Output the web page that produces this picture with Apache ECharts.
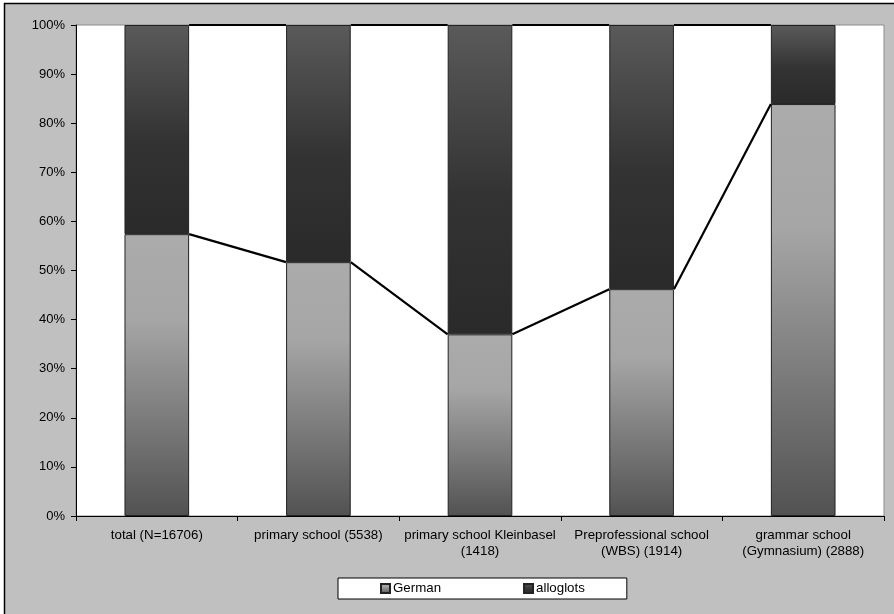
<!DOCTYPE html>
<html>
<head>
<meta charset="utf-8">
<script src="https://cdn.jsdelivr.net/npm/echarts@6/dist/echarts.min.js"></script>
<style>
  html, body { margin: 0; padding: 0; background: #ffffff; }
  #chart { width: 894px; height: 614px; }
</style>
</head>
<body>
<div id="chart"></div>
<script>
// School types with pupil counts
const categories = [
  'total (N=16706)',
  'primary school (5538)',
  'primary school Kleinbasel\n(1418)',
  'Preprofessional school\n(WBS) (1914)',
  'grammar school\n(Gymnasium) (2888)'
];
// Share of pupils by first language, in percent
const german = [57.4, 51.7, 37.0, 46.2, 83.9];
const alloglots = [42.6, 48.3, 63.0, 53.8, 16.1];
const yTicks = [0, 10, 20, 30, 40, 50, 60, 70, 80, 90, 100];

const FONT = 'Liberation Sans, Arial, sans-serif';
const BAR_RATIO = 0.4;

const germanFill = new echarts.graphic.LinearGradient(0, 0, 0, 1, [
  { offset: 0, color: '#ababab' },
  { offset: 0.3, color: '#a6a6a6' },
  { offset: 0.65, color: '#7c7c7c' },
  { offset: 1, color: '#525252' }
]);
const alloglotsFill = new echarts.graphic.LinearGradient(0, 0, 0, 1, [
  { offset: 0, color: '#5a5a5a' },
  { offset: 0.55, color: '#333333' },
  { offset: 1, color: '#2a2a2a' }
]);

// Connectors joining the tops of neighbouring stacked segments
function seriesLinePairs(tops) {
  const out = [];
  for (let i = 0; i < tops.length - 1; i++) out.push([i, tops[i], tops[i + 1]]);
  return out;
}
const germanTops = german.slice();
const stackTops = german.map((v, i) => v + alloglots[i]);

function renderConnector(params, api) {
  const i = api.value(0);
  const a = api.coord([i, api.value(1)]);
  const b = api.coord([i + 1, api.value(2)]);
  const half = api.size([1, 0])[0] * BAR_RATIO / 2;
  return {
    type: 'line',
    shape: { x1: a[0] + half, y1: a[1], x2: b[0] - half, y2: b[1] },
    style: { stroke: '#000000', lineWidth: 2.2 }
  };
}

const chart = echarts.init(document.getElementById('chart'), null, { renderer: 'canvas' });
chart.setOption({
  backgroundColor: '#ffffff',
  animation: false,
  graphic: [{
    type: 'rect',
    z: -10,
    silent: true,
    shape: { x: 4.5, y: 3.5, width: 900, height: 620 },
    style: { fill: '#c0c0c0', stroke: '#000000', lineWidth: 1.5 }
  }],
  grid: {
    left: 76, right: 10, top: 25, bottom: 98,
    show: true,
    backgroundColor: '#ffffff',
    borderColor: '#8c8c8c',
    borderWidth: 1
  },
  legend: {
    data: ['German', 'alloglots'],
    left: 338,
    top: 578,
    padding: [4, 42, 4, 42],
    itemGap: 82,
    itemWidth: 9,
    itemHeight: 9,
    icon: 'rect',
    backgroundColor: '#ffffff',
    borderColor: '#000000',
    borderWidth: 1,
    borderRadius: 0,
    textStyle: { fontFamily: FONT, fontSize: 13.3, color: '#000000', padding: [0, 0, 0, -2] }
  },
  xAxis: {
    type: 'category',
    data: categories,
    boundaryGap: true,
    axisLine: { lineStyle: { color: '#000000', width: 1 } },
    axisTick: { show: true, length: 5, interval: 0, lineStyle: { color: '#000000' } },
    axisLabel: {
      interval: 0,
      margin: 11,
      fontFamily: FONT,
      fontSize: 13.3,
      lineHeight: 16.5,
      color: '#000000',
      align: 'center'
    },
    splitLine: { show: false }
  },
  yAxis: {
    type: 'value',
    min: yTicks[0],
    max: yTicks[yTicks.length - 1],
    interval: yTicks[1] - yTicks[0],
    axisLine: { show: true, lineStyle: { color: '#000000', width: 1 } },
    axisTick: { show: true, length: 5, lineStyle: { color: '#000000' } },
    axisLabel: {
      formatter: '{value}%',
      margin: 11,
      fontFamily: FONT,
      fontSize: 13,
      color: '#000000'
    },
    splitLine: { show: false }
  },
  series: [
    {
      name: 'German',
      type: 'bar',
      stack: 'share',
      barWidth: (BAR_RATIO * 100) + '%',
      data: german,
      itemStyle: { color: germanFill, borderColor: '#222222', borderWidth: 1 }
    },
    {
      name: 'alloglots',
      type: 'bar',
      stack: 'share',
      barWidth: (BAR_RATIO * 100) + '%',
      data: alloglots,
      itemStyle: { color: alloglotsFill, borderColor: '#222222', borderWidth: 1 }
    },
    {
      name: 'german-lines',
      type: 'custom',
      renderItem: renderConnector,
      data: seriesLinePairs(germanTops),
      encode: { x: 0, y: [1, 2] },
      z: 5,
      silent: true
    },
    {
      name: 'total-lines',
      type: 'custom',
      renderItem: renderConnector,
      data: seriesLinePairs(stackTops),
      encode: { x: 0, y: [1, 2] },
      z: 5,
      silent: true
    }
  ]
});
</script>
</body>
</html>
